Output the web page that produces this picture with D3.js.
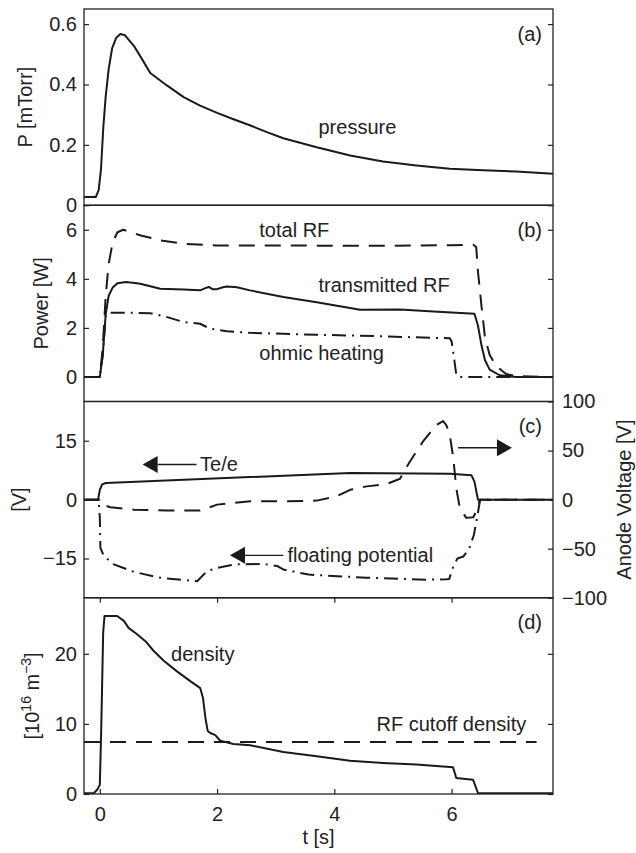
<!DOCTYPE html>
<html>
<head>
<meta charset="utf-8">
<script src="https://cdnjs.cloudflare.com/ajax/libs/d3/7.8.5/d3.min.js"></script>
<style>
  body { margin: 0; background: #fff; }
  text { font-family: "Liberation Sans", Arial, sans-serif; fill: #222; }
</style>
</head>
<body>
<svg></svg>
<script>
// time axis
const timeDomain = [-0.27, 7.73];
const timeTicks = [0, 2, 4, 6];

// (a) pressure [mTorr]
const tPressure = [-0.27, -0.07, -0.02, 0.02, 0.06, 0.10, 0.15, 0.21, 0.28, 0.35, 0.43, 0.58, 0.72, 0.86, 1.15, 1.43, 1.71, 2.0, 2.28, 2.57, 2.85, 3.13, 3.7, 4.27, 4.83, 5.4, 5.97, 6.54, 7.1, 7.73];
const pressure = [0.027, 0.027, 0.05, 0.12, 0.26, 0.36, 0.45, 0.52, 0.555, 0.567, 0.563, 0.528, 0.484, 0.438, 0.396, 0.358, 0.33, 0.306, 0.285, 0.264, 0.242, 0.222, 0.192, 0.165, 0.145, 0.132, 0.121, 0.116, 0.112, 0.104];
const pressureTicks = [0, 0.2, 0.4, 0.6];

// (b) power [W]
const tTotalRF = [-0.27, 0.0, 0.05, 0.1, 0.15, 0.22, 0.3, 0.4, 0.7, 1.03, 1.43, 2.0, 3.0, 4.0, 5.0, 6.0, 6.37, 6.42, 6.45, 6.51, 6.57, 6.65, 6.76, 6.93, 7.1, 7.73];
const totalRF = [0, 0, 1.2, 3.3, 4.6, 5.5, 5.9, 6.0, 5.77, 5.57, 5.43, 5.36, 5.36, 5.35, 5.35, 5.37, 5.39, 5.3, 4.3, 2.9, 1.6, 0.9, 0.45, 0.12, 0.03, 0];
const tTransRF = [-0.27, 0.0, 0.05, 0.1, 0.15, 0.22, 0.3, 0.45, 0.69, 1.03, 1.43, 1.71, 1.8, 1.86, 1.92, 2.0, 2.1, 2.17, 2.34, 2.56, 3.13, 3.7, 4.44, 5.12, 5.69, 6.39, 6.45, 6.51, 6.57, 6.65, 6.82, 7.1, 7.73];
const transRF = [0, 0, 0.9, 2.55, 3.3, 3.65, 3.82, 3.87, 3.8, 3.6, 3.57, 3.53, 3.62, 3.67, 3.58, 3.58, 3.66, 3.69, 3.66, 3.53, 3.26, 3.05, 2.74, 2.75, 2.67, 2.58, 2.1, 1.29, 0.68, 0.3, 0.07, 0, 0];
const tOhmic = [-0.27, 0.0, 0.05, 0.1, 0.136, 0.5, 0.86, 1.15, 1.43, 1.71, 1.88, 2.17, 2.56, 3.7, 4.83, 5.69, 5.97, 6.0, 6.04, 6.08, 6.12, 7.73];
const ohmic = [0, 0, 0.9, 2.5, 2.62, 2.62, 2.6, 2.44, 2.24, 2.17, 1.97, 1.86, 1.8, 1.72, 1.66, 1.59, 1.58, 1.45, 0.8, 0.1, 0, 0];
const powerTicks = [0, 2, 4, 6];

// (c) Te/e and floating potential [V], anode voltage [V]
const tTe = [-0.27, -0.03, 0.0, 0.04, 0.1, 4.27, 5.97, 6.34, 6.39, 6.45, 7.73];
const te = [0, 0, 2.5, 3.9, 4.24, 6.78, 6.6, 6.19, 4.6, 0, 0];
const tFloating = [-0.27, -0.02, 0.0, 0.01, 0.07, 0.24, 0.58, 1.03, 1.66, 1.83, 2.0, 2.31, 2.79, 3.02, 3.13, 3.56, 4.55, 5.57, 5.91, 5.96, 6.03, 6.1, 6.2, 6.3, 6.38, 6.43, 6.47, 6.49, 7.73];
const floating = [0, 0, -4.7, -12.3, -14.4, -16.5, -18.4, -19.9, -20.8, -18.2, -17.4, -16.5, -16.4, -16.9, -17.8, -19.1, -19.9, -20.4, -20.3, -20.2, -17, -15, -14.5, -12.5, -9, -5, -1.5, 0, 0];
const tAnode = [-0.27, 0.0, 0.04, 0.18, 0.58, 1.15, 1.71, 2.0, 2.57, 3.13, 3.7, 4.04, 4.27, 4.55, 4.89, 5.12, 5.29, 5.51, 5.74, 5.855, 5.91, 5.97, 6.03, 6.08, 6.14, 6.25, 6.37, 6.45, 6.48, 7.73];
const anode = [0, 0, -5, -7.8, -10.2, -11.2, -11.2, -5.1, -1.7, -1.7, -1, 3.4, 10, 13.5, 15.9, 21.3, 38.9, 59, 76, 80, 76, 66, 42, 11.8, -8.5, -18.6, -18, -8.5, 0, 0];
const voltTicks = [-15, 0, 15];
const anodeTicks = [-100, -50, 0, 50, 100];

// (d) density [10^16 m^-3]
const tDensity = [-0.27, -0.1, -0.045, 0.0, 0.023, 0.04, 0.057, 0.08, 0.295, 0.41, 0.49, 0.635, 0.777, 0.92, 1.09, 1.316, 1.543, 1.713, 1.76, 1.8, 1.84, 1.884, 1.97, 2.054, 2.28, 2.565, 3.13, 3.7, 4.267, 4.83, 5.4, 6.025, 6.08, 6.196, 6.366, 6.45, 7.73];
const density = [0.1, 0.15, 0.6, 1.3, 9, 16, 23, 25.4, 25.4, 24.7, 23.7, 22.8, 21.8, 20.4, 19, 17.5, 16.1, 15.1, 13.7, 10.9, 9, 8.7, 8.4, 7.6, 7.14, 6.95, 6.0, 5.38, 4.76, 4.43, 4.2, 3.8, 2.29, 2.19, 2.05, 0.14, 0.1];
const tCutoff = [-0.27, 7.45];
const cutoff = [7.43, 7.43];
const densityTicks = [0, 10, 20];

const svgWidth = 636;
const svgHeight = 853;
const plotLeft = 84, plotRight = 553, plotTop = 9, plotBottom = 794;
const panelHeight = (plotBottom - plotTop) / 4;
const ink = "#1a1a1a";

const svg = d3.select("svg")
    .attr("width", svgWidth)
    .attr("height", svgHeight);

const x = d3.scaleLinear().domain(timeDomain).range([plotLeft, plotRight]);

function panelTop(i) { return plotTop + i * panelHeight; }
function makeY(i, domain) {
    return d3.scaleLinear().domain(domain).range([panelTop(i + 1), panelTop(i)]);
}

const yP = makeY(0, [0, 0.65]);
const yW = makeY(1, [-1, 7]);
const yV = makeY(2, [-25, 25]);
const yA = makeY(2, [-100, 100]);
const yN = makeY(3, [0, 28]);

const fmt = d => String(d).replace("-", "\u2212");

// clip paths for each panel
const defs = svg.append("defs");
[0, 1, 2, 3].forEach(i => {
    defs.append("clipPath").attr("id", "clip" + i)
        .append("rect")
        .attr("x", plotLeft).attr("y", panelTop(i))
        .attr("width", plotRight - plotLeft).attr("height", panelHeight);
});

function drawLine(i, ts, vs, y, dash) {
    svg.append("path")
        .datum(d3.zip(ts, vs))
        .attr("clip-path", `url(#clip${i})`)
        .attr("d", d3.line().x(d => x(d[0])).y(d => y(d[1])))
        .attr("fill", "none")
        .attr("stroke", ink)
        .attr("stroke-width", 2)
        .attr("stroke-linejoin", "round")
        .attr("stroke-dasharray", dash || null);
}

const dashed = "16,10";
const dashDot = "14,6,2,6";

drawLine(0, tPressure, pressure, yP);
drawLine(1, tTotalRF, totalRF, yW, dashed);
drawLine(1, tOhmic, ohmic, yW, dashDot);
drawLine(1, tTransRF, transRF, yW);
drawLine(2, tAnode, anode, yA, dashed);
drawLine(2, tFloating, floating, yV, dashDot);
drawLine(2, tTe, te, yV);
drawLine(3, tCutoff, cutoff, yN, dashed);
drawLine(3, tDensity, density, yN);

// y axes, ticks pointing inward, mirrored on the right
function styleAxis(g) {
    g.attr("font-size", 20).attr("font-family", "Liberation Sans, Arial, sans-serif").attr("color", "#222");
    g.select(".domain").remove();
    g.selectAll(".tick line").attr("stroke-width", 1.2);
}

function leftAxis(y, ticks, mirror) {
    svg.append("g").attr("transform", `translate(${plotLeft},0)`)
        .call(d3.axisLeft(y).tickValues(ticks).tickFormat(fmt).tickSizeInner(-5).tickSizeOuter(0).tickPadding(7))
        .call(styleAxis);
    if (mirror) {
        svg.append("g").attr("transform", `translate(${plotRight},0)`)
            .call(d3.axisRight(y).tickValues(ticks).tickFormat("").tickSizeInner(-5).tickSizeOuter(0))
            .call(styleAxis);
    }
}

leftAxis(yP, pressureTicks, true);
leftAxis(yW, powerTicks, true);
leftAxis(yV, voltTicks, false);
leftAxis(yN, densityTicks, true);

svg.append("g").attr("transform", `translate(${plotRight},0)`)
    .call(d3.axisRight(yA).tickValues(anodeTicks).tickFormat(fmt).tickSizeInner(-5).tickSizeOuter(0).tickPadding(9))
    .call(styleAxis);

svg.append("g").attr("transform", `translate(0,${plotBottom})`)
    .call(d3.axisBottom(x).tickValues(timeTicks).tickSizeInner(-5).tickSizeOuter(0).tickPadding(13))
    .call(styleAxis);
svg.append("g").attr("transform", `translate(0,${panelTop(3)})`)
    .call(d3.axisTop(x).tickValues(timeTicks).tickFormat("").tickSizeInner(-5).tickSizeOuter(0))
    .call(styleAxis);

// panel boxes
[0, 1, 2, 3].forEach(i => {
    svg.append("rect")
        .attr("x", plotLeft).attr("y", panelTop(i))
        .attr("width", plotRight - plotLeft).attr("height", panelHeight)
        .attr("fill", "none").attr("stroke", "#222").attr("stroke-width", 1.3);
});

// panel letters
["(a)", "(b)", "(c)", "(d)"].forEach((s, i) => {
    svg.append("text")
        .attr("x", 542).attr("y", panelTop(i) + 31.5)
        .attr("text-anchor", "end").attr("font-size", 20)
        .text(s);
});

// curve labels, placed in data coordinates
const labels = [
    { text: "pressure", t: 3.73, v: 0.236, y: yP },
    { text: "total RF", t: 2.72, v: 5.71, y: yW },
    { text: "transmitted RF", t: 3.73, v: 3.45, y: yW },
    { text: "ohmic heating", t: 2.72, v: 0.68, y: yW },
    { text: "Te/e", t: 1.71, v: 7.2, y: yV },
    { text: "floating potential", t: 3.2, v: -15.9, y: yV },
    { text: "density", t: 1.215, v: 18.96, y: yN },
    { text: "RF cutoff density", t: 4.72, v: 9.04, y: yN }
];
labels.forEach(d => {
    svg.append("text")
        .attr("x", x(d.t)).attr("y", d.y(d.v))
        .attr("font-size", 20)
        .text(d.text);
});

// arrows in panel (c)
const arrows = [
    { from: 1.65, to: 0.73, v: 8.93 },
    { from: 3.13, to: 2.22, v: -14.2 },
    { from: 6.11, to: 7.03, v: 13.2 }
];
arrows.forEach(a => {
    const x0 = x(a.from), x1 = x(a.to), yy = yV(a.v);
    const dir = x1 > x0 ? 1 : -1;
    const base = x1 - dir * 15;
    svg.append("line")
        .attr("x1", x0).attr("x2", base).attr("y1", yy).attr("y2", yy)
        .attr("stroke", ink).attr("stroke-width", 1.4);
    svg.append("path")
        .attr("d", `M${x1},${yy}L${base},${yy - 8.5}L${base},${yy + 8.5}Z`)
        .attr("fill", ink);
});

// axis titles
function yTitle(xPos, yPos, txt) {
    return svg.append("text")
        .attr("transform", `translate(${xPos},${yPos}) rotate(-90)`)
        .attr("text-anchor", "middle").attr("font-size", 20)
        .text(txt);
}
yTitle(32, (panelTop(0) + panelTop(1)) / 2, "P [mTorr]");
yTitle(48, (panelTop(1) + panelTop(2)) / 2, "Power [W]");
yTitle(26, (panelTop(2) + panelTop(3)) / 2, "[V]");
yTitle(631, (panelTop(2) + panelTop(3)) / 2, "Anode Voltage [V]");

const dTitle = svg.append("text")
    .attr("transform", `translate(39,${(panelTop(3) + plotBottom) / 2}) rotate(-90)`)
    .attr("text-anchor", "middle").attr("font-size", 20);
dTitle.append("tspan").text("[10");
dTitle.append("tspan").attr("font-size", 14).attr("dy", -8).text("16");
dTitle.append("tspan").attr("dy", 8).text(" m");
dTitle.append("tspan").attr("font-size", 14).attr("dy", -8).text("\u22123");
dTitle.append("tspan").attr("dy", 8).text("]");

svg.append("text")
    .attr("x", (plotLeft + plotRight) / 2).attr("y", 844)
    .attr("text-anchor", "middle").attr("font-size", 20)
    .text("t [s]");
</script>
</body>
</html>
